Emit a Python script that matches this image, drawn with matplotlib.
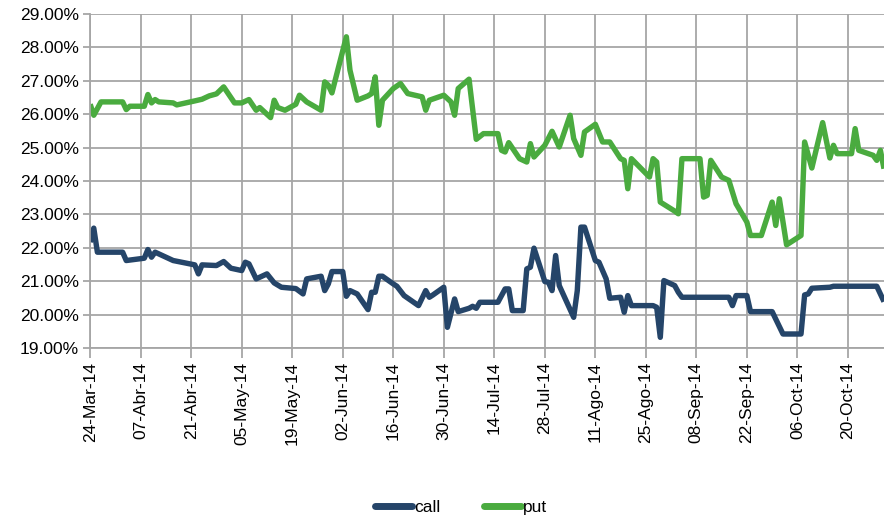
import pandas as pd
import matplotlib
matplotlib.use("Agg")
import matplotlib.pyplot as plt
from matplotlib.ticker import FuncFormatter, MultipleLocator

plt.rcParams['font.family'] = ['Liberation Sans', 'DejaVu Sans']

# implied volatility (%), vertices
call_dates = [
    "2014-03-24", "2014-03-25", "2014-03-26", "2014-04-02", "2014-04-03", "2014-04-08",
    "2014-04-09", "2014-04-10", "2014-04-11", "2014-04-16", "2014-04-22", "2014-04-23",
    "2014-04-24", "2014-04-28", "2014-04-30", "2014-05-02", "2014-05-05", "2014-05-06",
    "2014-05-07", "2014-05-09", "2014-05-12", "2014-05-14", "2014-05-16", "2014-05-20",
    "2014-05-22", "2014-05-23", "2014-05-27", "2014-05-28", "2014-05-29", "2014-05-30",
    "2014-06-02", "2014-06-03", "2014-06-04", "2014-06-06", "2014-06-09", "2014-06-10",
    "2014-06-11", "2014-06-12", "2014-06-13", "2014-06-16", "2014-06-17", "2014-06-19",
    "2014-06-23", "2014-06-25", "2014-06-26", "2014-06-27", "2014-06-30", "2014-07-01",
    "2014-07-03", "2014-07-04", "2014-07-07", "2014-07-08", "2014-07-09", "2014-07-10",
    "2014-07-15", "2014-07-17", "2014-07-18", "2014-07-19", "2014-07-22", "2014-07-23",
    "2014-07-24", "2014-07-25", "2014-07-28", "2014-07-29", "2014-07-30", "2014-07-31",
    "2014-08-01", "2014-08-05", "2014-08-06", "2014-08-07", "2014-08-08", "2014-08-11",
    "2014-08-12", "2014-08-14", "2014-08-15", "2014-08-18", "2014-08-19", "2014-08-20",
    "2014-08-21", "2014-08-27", "2014-08-28", "2014-08-29", "2014-08-30", "2014-09-02",
    "2014-09-03", "2014-09-04", "2014-09-17", "2014-09-18", "2014-09-19", "2014-09-22",
    "2014-09-23", "2014-09-29", "2014-10-02", "2014-10-07", "2014-10-08", "2014-10-09",
    "2014-10-10", "2014-10-15", "2014-10-16", "2014-10-28", "2014-10-30",
]
call_vals = [
    22.17, 22.59, 21.87, 21.87, 21.62, 21.69,
    21.95, 21.72, 21.87, 21.62, 21.49, 21.22,
    21.49, 21.47, 21.59, 21.39, 21.32, 21.57,
    21.52, 21.07, 21.22, 20.95, 20.82, 20.78,
    20.62, 21.07, 21.15, 20.72, 20.92, 21.29,
    21.29, 20.55, 20.72, 20.62, 20.15, 20.67,
    20.67, 21.15, 21.15, 20.92, 20.85, 20.57,
    20.27, 20.72, 20.52, 20.59, 20.82, 19.62,
    20.47, 20.09, 20.19, 20.25, 20.19, 20.37,
    20.37, 20.77, 20.77, 20.12, 20.12, 21.37,
    21.42, 21.99, 20.99, 20.97, 20.72, 21.77,
    20.87, 19.92, 20.72, 22.62, 22.62, 21.62,
    21.57, 21.07, 20.49, 20.52, 20.07, 20.57,
    20.27, 20.27, 20.22, 19.32, 21.02, 20.87,
    20.67, 20.52, 20.52, 20.27, 20.57, 20.57,
    20.09, 20.09, 19.42, 19.42, 20.59, 20.62,
    20.79, 20.82, 20.85, 20.85, 20.39,
]

put_dates = [
    "2014-03-24", "2014-03-25", "2014-03-27", "2014-04-02", "2014-04-03", "2014-04-04",
    "2014-04-08", "2014-04-09", "2014-04-10", "2014-04-11", "2014-04-12", "2014-04-16",
    "2014-04-17", "2014-04-22", "2014-04-24", "2014-04-26", "2014-04-28", "2014-04-30",
    "2014-05-03", "2014-05-05", "2014-05-07", "2014-05-09", "2014-05-10", "2014-05-13",
    "2014-05-14", "2014-05-15", "2014-05-17", "2014-05-20", "2014-05-21", "2014-05-23",
    "2014-05-27", "2014-05-28", "2014-05-29", "2014-05-30", "2014-06-03", "2014-06-04",
    "2014-06-06", "2014-06-09", "2014-06-10", "2014-06-11", "2014-06-12", "2014-06-13",
    "2014-06-16", "2014-06-18", "2014-06-20", "2014-06-24", "2014-06-25", "2014-06-26",
    "2014-06-30", "2014-07-02", "2014-07-03", "2014-07-04", "2014-07-07", "2014-07-09",
    "2014-07-11", "2014-07-15", "2014-07-16", "2014-07-17", "2014-07-18", "2014-07-21",
    "2014-07-23", "2014-07-24", "2014-07-25", "2014-07-28", "2014-07-30", "2014-08-01",
    "2014-08-04", "2014-08-05", "2014-08-07", "2014-08-08", "2014-08-11", "2014-08-13",
    "2014-08-15", "2014-08-18", "2014-08-19", "2014-08-20", "2014-08-21", "2014-08-26",
    "2014-08-27", "2014-08-28", "2014-08-29", "2014-09-02", "2014-09-03", "2014-09-04",
    "2014-09-09", "2014-09-10", "2014-09-11", "2014-09-12", "2014-09-15", "2014-09-17",
    "2014-09-19", "2014-09-22", "2014-09-23", "2014-09-26", "2014-09-29", "2014-09-30",
    "2014-10-01", "2014-10-03", "2014-10-07", "2014-10-08", "2014-10-10", "2014-10-13",
    "2014-10-15", "2014-10-16", "2014-10-17", "2014-10-21", "2014-10-22", "2014-10-23",
    "2014-10-27", "2014-10-28", "2014-10-29", "2014-10-30",
]
put_vals = [
    26.30, 25.97, 26.37, 26.37, 26.14, 26.24,
    26.24, 26.59, 26.34, 26.44, 26.37, 26.34,
    26.28, 26.40, 26.45, 26.55, 26.61, 26.82,
    26.34, 26.34, 26.44, 26.12, 26.20, 25.90,
    26.42, 26.20, 26.12, 26.30, 26.57, 26.37,
    26.12, 26.97, 26.87, 26.64, 28.32, 27.32,
    26.42, 26.55, 26.62, 27.12, 25.67, 26.42,
    26.77, 26.92, 26.62, 26.52, 26.12, 26.42,
    26.57, 26.37, 25.97, 26.77, 27.05, 25.25,
    25.42, 25.42, 24.92, 24.87, 25.15, 24.67,
    24.57, 25.12, 24.72, 25.07, 25.49, 25.02,
    25.97, 25.27, 24.77, 25.47, 25.70, 25.17,
    25.17, 24.67, 24.62, 23.77, 24.67, 24.12,
    24.67, 24.57, 23.37, 23.10, 23.02, 24.67,
    24.67, 23.52, 23.57, 24.62, 24.12, 24.02,
    23.32, 22.77, 22.37, 22.37, 23.37, 22.67,
    23.47, 22.09, 22.37, 25.17, 24.39, 25.75,
    24.69, 25.07, 24.82, 24.82, 25.57, 24.92,
    24.77, 24.62, 24.92, 24.37,
]

tick_labels = [
    "24-Mar-14", "07-Abr-14", "21-Abr-14", "05-May-14", "19-May-14", "02-Jun-14",
    "16-Jun-14", "30-Jun-14", "14-Jul-14", "28-Jul-14", "11-Ago-14", "25-Ago-14",
    "08-Sep-14", "22-Sep-14", "06-Oct-14", "20-Oct-14",
]

call_color = '#254569'
put_color = '#4aab3f'
grid_color = '#a6a6a6'

fig = plt.figure(figsize=(8.84, 5.21), dpi=100)
ax = fig.add_axes([0.102, 0.332, 0.898, 0.641])

ax.plot(pd.to_datetime(call_dates), call_vals, color=call_color, lw=3.9,
        solid_joinstyle='round', solid_capstyle='butt', label='call')
ax.plot(pd.to_datetime(put_dates), put_vals, color=put_color, lw=3.9,
        solid_joinstyle='round', solid_capstyle='butt', label='put')

ax.set_ylim(19, 29)
ax.yaxis.set_major_locator(MultipleLocator(1))
ax.yaxis.set_major_formatter(FuncFormatter(lambda v, p: f"{v:.2f}%"))

ticks = pd.date_range(call_dates[0], periods=len(tick_labels), freq='14D')
ax.set_xticks(ticks)
ax.set_xticklabels(tick_labels, rotation=90)
ax.set_xlim(pd.Timestamp(call_dates[0]), pd.Timestamp(call_dates[-1]))

ax.grid(True, color=grid_color, lw=1.3)
ax.set_axisbelow(True)
for side in ['top', 'right']:
    ax.spines[side].set_visible(False)
for side in ['left', 'bottom']:
    ax.spines[side].set_color(grid_color)
    ax.spines[side].set_linewidth(1.3)
ax.tick_params(axis='x', length=7, width=1.3, color=grid_color, labelsize=12.5, pad=3)
ax.tick_params(axis='y', length=5, width=1.3, color=grid_color, labelsize=12.5, pad=3)

leg = fig.legend(loc='lower center', bbox_to_anchor=(0.522, -0.018), ncol=2, frameon=False,
                 fontsize=12.5, handlelength=2.1, handletextpad=0.15, columnspacing=2.5)
for h in leg.legend_handles:
    h.set_linewidth(5)
    h.set_solid_capstyle('round')

fig.savefig('out.png', dpi=100)
